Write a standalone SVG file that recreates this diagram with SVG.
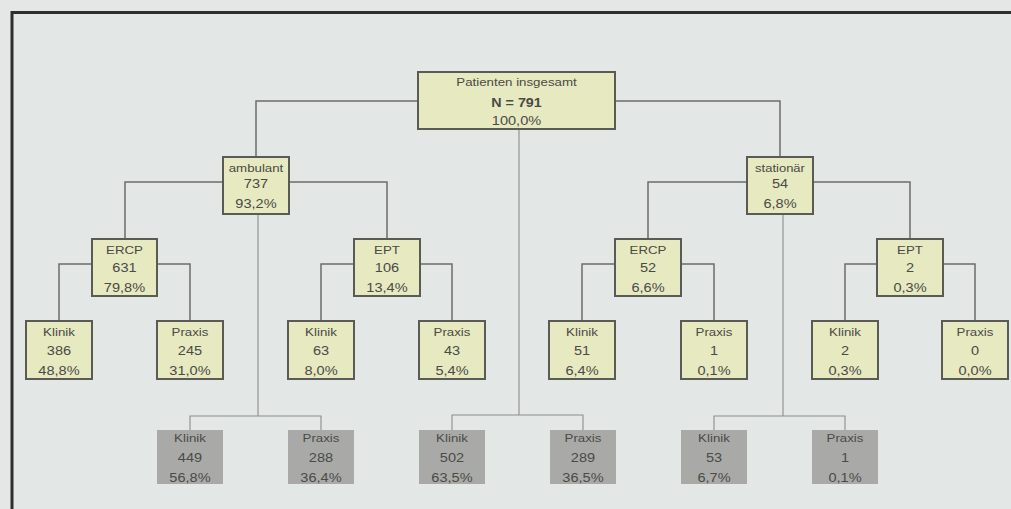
<svg xmlns="http://www.w3.org/2000/svg" width="1011" height="509" viewBox="0 0 1011 509">
<style>
.bg{fill:#e3e7e6}
.frame{stroke:#2e2e2e;stroke-width:3;fill:none}
.box{fill:#e7e9c0;stroke:#5b5b56;stroke-width:2}
.gbox{fill:#a9aaa7;stroke:none}
.c{fill:none;stroke:#6e6e6a;stroke-width:1.5}
.c2{fill:none;stroke:#8c8e8b;stroke-width:1.1}
text{font-family:"Liberation Sans",Arial,sans-serif;fill:#4a4a47;text-anchor:middle}
.l{font-size:10px}
.n{font-size:13px}
.b{font-size:13px;font-weight:bold}
</style>
<rect class="bg" x="0" y="0" width="1011" height="509"/>
<path class="frame" d="M12,509 V12.5 H1011"/>
<g id="connectors">
<path class="c" d="M418,101 H256 V157 M615,101 H780 V157"/>
<path class="c2" d="M519,129 V415 M452,430 V415 H583 V430"/>
<path class="c" d="M223,182 H125 V239 M289,182 H387 V239"/>
<path class="c2" d="M258,214 V416 M190,430 V416 H321 V430"/>
<path class="c" d="M747,182 H648 V239 M813,182 H910 V239"/>
<path class="c2" d="M783,214 V416 M714,430 V416 H845 V430"/>
<path class="c" d="M92,264 H59 V321 M157,264 H190 V321"/>
<path class="c" d="M354,264 H321 V321 M420,264 H452 V321"/>
<path class="c" d="M615,264 H582 V321 M681,264 H714 V321"/>
<path class="c" d="M877,264 H845 V321 M943,264 H975 V321"/>
</g>
<g id="root">
<rect class="box" x="418" y="72" width="197" height="57"/>
<text class="l" transform="matrix(1.33 0 0 1 516.5 86)">Patienten insgesamt</text>
<text class="b" transform="matrix(1.1 0 0 1 516.5 107)">N = 791</text>
<text class="n" transform="matrix(1.12 0 0 1 516.5 125)">100,0%</text>
</g>
<g id="ambulant">
<rect class="box" x="223" y="157" width="66" height="57"/>
<text class="l" transform="matrix(1.33 0 0 1 256 172)">ambulant</text>
<text class="n" transform="matrix(1.12 0 0 1 256 188)">737</text>
<text class="n" transform="matrix(1.12 0 0 1 256 208)">93,2%</text>
</g>
<g id="stationaer">
<rect class="box" x="747" y="157" width="66" height="57"/>
<text class="l" transform="matrix(1.3 0 0 1 780 172)">stationär</text>
<text class="n" transform="matrix(1.12 0 0 1 780 188)">54</text>
<text class="n" transform="matrix(1.12 0 0 1 780 208)">6,8%</text>
</g>
<g id="a_ercp">
<rect class="box" x="92" y="239" width="65" height="57"/>
<text class="l" transform="matrix(1.33 0 0 1 124.5 254)">ERCP</text>
<text class="n" transform="matrix(1.12 0 0 1 124.5 272)">631</text>
<text class="n" transform="matrix(1.12 0 0 1 124.5 292)">79,8%</text>
</g>
<g id="a_ept">
<rect class="box" x="354" y="239" width="66" height="57"/>
<text class="l" transform="matrix(1.33 0 0 1 387 254)">EPT</text>
<text class="n" transform="matrix(1.12 0 0 1 387 272)">106</text>
<text class="n" transform="matrix(1.12 0 0 1 387 292)">13,4%</text>
</g>
<g id="s_ercp">
<rect class="box" x="615" y="239" width="66" height="57"/>
<text class="l" transform="matrix(1.33 0 0 1 648 254)">ERCP</text>
<text class="n" transform="matrix(1.12 0 0 1 648 272)">52</text>
<text class="n" transform="matrix(1.12 0 0 1 648 292)">6,6%</text>
</g>
<g id="s_ept">
<rect class="box" x="877" y="239" width="66" height="57"/>
<text class="l" transform="matrix(1.33 0 0 1 910 254)">EPT</text>
<text class="n" transform="matrix(1.12 0 0 1 910 272)">2</text>
<text class="n" transform="matrix(1.12 0 0 1 910 292)">0,3%</text>
</g>
<g id="a_ercp_klinik">
<rect class="box" x="26" y="321" width="66" height="58"/>
<text class="l" transform="matrix(1.33 0 0 1 59 336)">Klinik</text>
<text class="n" transform="matrix(1.12 0 0 1 59 355)">386</text>
<text class="n" transform="matrix(1.12 0 0 1 59 375)">48,8%</text>
</g>
<g id="a_ercp_praxis">
<rect class="box" x="157" y="321" width="66" height="58"/>
<text class="l" transform="matrix(1.33 0 0 1 190 336)">Praxis</text>
<text class="n" transform="matrix(1.12 0 0 1 190 355)">245</text>
<text class="n" transform="matrix(1.12 0 0 1 190 375)">31,0%</text>
</g>
<g id="a_ept_klinik">
<rect class="box" x="288" y="321" width="66" height="58"/>
<text class="l" transform="matrix(1.33 0 0 1 321 336)">Klinik</text>
<text class="n" transform="matrix(1.12 0 0 1 321 355)">63</text>
<text class="n" transform="matrix(1.12 0 0 1 321 375)">8,0%</text>
</g>
<g id="a_ept_praxis">
<rect class="box" x="419" y="321" width="66" height="58"/>
<text class="l" transform="matrix(1.33 0 0 1 452 336)">Praxis</text>
<text class="n" transform="matrix(1.12 0 0 1 452 355)">43</text>
<text class="n" transform="matrix(1.12 0 0 1 452 375)">5,4%</text>
</g>
<g id="s_ercp_klinik">
<rect class="box" x="549" y="321" width="66" height="58"/>
<text class="l" transform="matrix(1.33 0 0 1 582 336)">Klinik</text>
<text class="n" transform="matrix(1.12 0 0 1 582 355)">51</text>
<text class="n" transform="matrix(1.12 0 0 1 582 375)">6,4%</text>
</g>
<g id="s_ercp_praxis">
<rect class="box" x="681" y="321" width="66" height="58"/>
<text class="l" transform="matrix(1.33 0 0 1 714 336)">Praxis</text>
<text class="n" transform="matrix(1.12 0 0 1 714 355)">1</text>
<text class="n" transform="matrix(1.12 0 0 1 714 375)">0,1%</text>
</g>
<g id="s_ept_klinik">
<rect class="box" x="812" y="321" width="66" height="58"/>
<text class="l" transform="matrix(1.33 0 0 1 845 336)">Klinik</text>
<text class="n" transform="matrix(1.12 0 0 1 845 355)">2</text>
<text class="n" transform="matrix(1.12 0 0 1 845 375)">0,3%</text>
</g>
<g id="s_ept_praxis">
<rect class="box" x="942" y="321" width="66" height="58"/>
<text class="l" transform="matrix(1.33 0 0 1 975 336)">Praxis</text>
<text class="n" transform="matrix(1.12 0 0 1 975 355)">0</text>
<text class="n" transform="matrix(1.12 0 0 1 975 375)">0,0%</text>
</g>
<g id="a_klinik_total">
<rect class="gbox" x="157" y="430" width="66" height="54"/>
<text class="l" transform="matrix(1.33 0 0 1 190 441.5)">Klinik</text>
<text class="n" transform="matrix(1.12 0 0 1 190 462)">449</text>
<text class="n" transform="matrix(1.12 0 0 1 190 482)">56,8%</text>
</g>
<g id="a_praxis_total">
<rect class="gbox" x="288" y="430" width="66" height="54"/>
<text class="l" transform="matrix(1.33 0 0 1 321 441.5)">Praxis</text>
<text class="n" transform="matrix(1.12 0 0 1 321 462)">288</text>
<text class="n" transform="matrix(1.12 0 0 1 321 482)">36,4%</text>
</g>
<g id="klinik_total">
<rect class="gbox" x="419" y="430" width="66" height="54"/>
<text class="l" transform="matrix(1.33 0 0 1 452 441.5)">Klinik</text>
<text class="n" transform="matrix(1.12 0 0 1 452 462)">502</text>
<text class="n" transform="matrix(1.12 0 0 1 452 482)">63,5%</text>
</g>
<g id="praxis_total">
<rect class="gbox" x="550" y="430" width="66" height="54"/>
<text class="l" transform="matrix(1.33 0 0 1 583 441.5)">Praxis</text>
<text class="n" transform="matrix(1.12 0 0 1 583 462)">289</text>
<text class="n" transform="matrix(1.12 0 0 1 583 482)">36,5%</text>
</g>
<g id="s_klinik_total">
<rect class="gbox" x="681" y="430" width="66" height="54"/>
<text class="l" transform="matrix(1.33 0 0 1 714 441.5)">Klinik</text>
<text class="n" transform="matrix(1.12 0 0 1 714 462)">53</text>
<text class="n" transform="matrix(1.12 0 0 1 714 482)">6,7%</text>
</g>
<g id="s_praxis_total">
<rect class="gbox" x="812" y="430" width="66" height="54"/>
<text class="l" transform="matrix(1.33 0 0 1 845 441.5)">Praxis</text>
<text class="n" transform="matrix(1.12 0 0 1 845 462)">1</text>
<text class="n" transform="matrix(1.12 0 0 1 845 482)">0,1%</text>
</g>
</svg>
